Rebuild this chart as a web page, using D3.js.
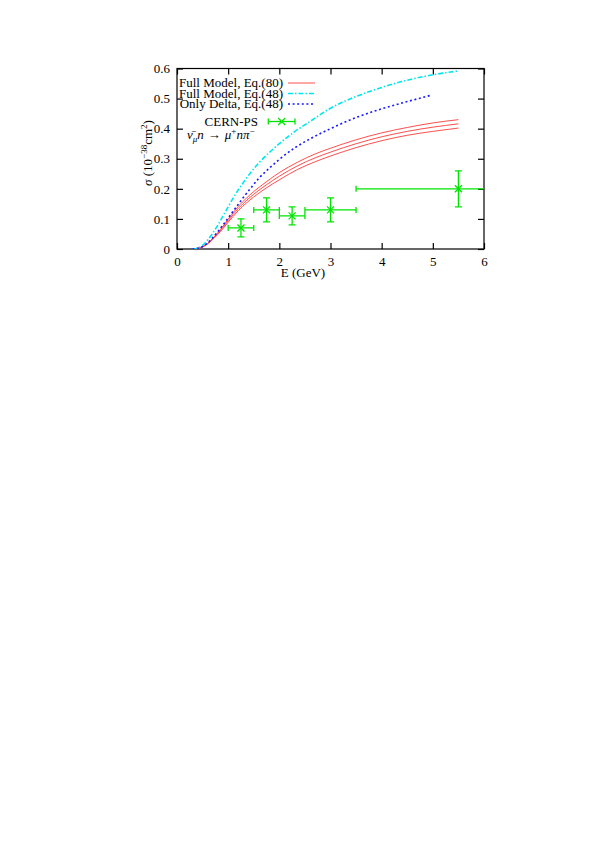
<!DOCTYPE html>
<html><head><meta charset="utf-8">
<script src="https://cdn.jsdelivr.net/npm/d3@7"></script>
<style>
body{margin:0;background:#fff;}
svg text{font-family:"Liberation Serif","Times New Roman",serif;fill:#000;}
</style></head>
<body><svg id="c" width="613" height="866"></svg>
<script>
// ---- data ----
const xTicks = [0,1,2,3,4,5,6];
const yTicks = [0,0.1,0.2,0.3,0.4,0.5,0.6];
const yTickLabels = ["0","0.1","0.2","0.3","0.4","0.5","0.6"];

const redE     = [0.3,0.4,0.5,0.6,0.7,0.8,0.9,1.0,1.1,1.2,1.35,1.5,1.72,2.0,2.35,2.7,3.0,3.5,4.0,4.5,5.0,5.5];
const redUpper = [0,0.002,0.007,0.019,0.036,0.055,0.076,0.099,0.121,0.142,0.168,0.191,0.220,0.254,0.288,0.316,0.335,0.363,0.386,0.404,0.419,0.430];
const redMid   = [0,0.002,0.007,0.018,0.034,0.052,0.072,0.094,0.115,0.135,0.160,0.182,0.210,0.242,0.276,0.303,0.322,0.350,0.373,0.391,0.405,0.416];
const redLower = [0,0.002,0.007,0.017,0.032,0.049,0.068,0.089,0.109,0.128,0.152,0.173,0.200,0.230,0.264,0.290,0.309,0.337,0.360,0.378,0.391,0.402];

const cyanE = [0.3,0.4,0.5,0.6,0.7,0.8,0.9,1.0,1.1,1.2,1.3,1.43,1.6,1.8,2.0,2.3,2.6,3.0,3.5,4.0,4.5,5.0,5.5];
const cyanS = [0,0.003,0.012,0.030,0.053,0.080,0.110,0.140,0.170,0.197,0.222,0.252,0.286,0.320,0.350,0.390,0.424,0.468,0.507,0.537,0.561,0.579,0.592];

const blueE = [0.3,0.4,0.5,0.6,0.7,0.8,0.9,1.0,1.1,1.2,1.3,1.43,1.6,1.8,2.0,2.3,2.6,3.0,3.5,4.0,4.5,4.94];
const blueS = [0,0.002,0.008,0.020,0.038,0.058,0.080,0.103,0.126,0.149,0.172,0.200,0.235,0.268,0.298,0.336,0.366,0.400,0.437,0.466,0.490,0.510];

const dataE   = [1.25,1.75,2.25,3.0,5.5];
const dataS   = [0.07,0.13,0.11,0.13,0.20];
const dataElo = [1.0,1.5,2.0,2.5,3.5];
const dataEhi = [1.5,2.0,2.5,3.5,7.5];
const dataSlo = [0.04,0.09,0.08,0.09,0.14];
const dataShi = [0.10,0.17,0.14,0.17,0.26];

const legendLabels = ["Full Model, Eq.(80)","Full Model, Eq.(48)","Only Delta, Eq.(48)"];
const dataLabel = "CERN-PS";

// ---- layout ----
const L=177,R=484,T=68.5,B=249;
const svg=d3.select("#c");
const x=d3.scaleLinear().domain([0,6]).range([L,R]);
const y=d3.scaleLinear().domain([0,0.6]).range([B,T]);

svg.append("defs").append("clipPath").attr("id","clip")
  .append("rect").attr("x",L).attr("y",T).attr("width",R-L).attr("height",B-T);

// axes
const fs=13;
const ax=[
  svg.append("g").attr("transform",`translate(0,${B})`).call(d3.axisBottom(x).tickValues(xTicks).tickSize(-6).tickPadding(8).tickFormat(d3.format("d"))),
  svg.append("g").attr("transform",`translate(0,${T})`).call(d3.axisTop(x).tickValues(xTicks).tickSize(-6).tickFormat("")),
  svg.append("g").attr("transform",`translate(${L},0)`).call(d3.axisLeft(y).tickValues(yTicks).tickSize(-6).tickPadding(7).tickFormat((d,i)=>yTickLabels[i])),
  svg.append("g").attr("transform",`translate(${R},0)`).call(d3.axisRight(y).tickValues(yTicks).tickSize(-6).tickFormat(""))
];
ax.forEach(g=>{
  g.select(".domain").remove();
  g.selectAll(".tick line").attr("stroke","#000").attr("stroke-width",1.2);
  g.selectAll("text").attr("font-family","Liberation Serif, serif").attr("font-size",fs).attr("fill","#000");
});
svg.append("rect").attr("x",L).attr("y",T).attr("width",R-L).attr("height",B-T)
  .attr("fill","none").attr("stroke","#000").attr("stroke-width",1.2);

// axis titles
svg.append("text").attr("x",303).attr("y",277).attr("text-anchor","middle")
  .attr("font-size",fs).text("E (GeV)");
const yl=svg.append("text").attr("transform",`translate(152,153) rotate(-90)`)
  .attr("text-anchor","middle").attr("font-size",fs);
yl.append("tspan").attr("font-style","italic").text("σ");
yl.append("tspan").text(" (10");
yl.append("tspan").attr("font-size",9).attr("dy",-5).text("−38");
yl.append("tspan").attr("dy",5).text("cm");
yl.append("tspan").attr("font-size",9).attr("dy",-5).text("2");
yl.append("tspan").attr("dy",5).text(")");

// curves
const plot=svg.append("g").attr("clip-path","url(#clip)");
const line=d3.line().x(d=>x(d[0])).y(d=>y(d[1])).curve(d3.curveMonotoneX);
const red="#ff3a3a", cyan="#00e5ee", blue="#1a1aff", green="#00e400";
[redUpper,redMid,redLower].forEach(s=>{
  plot.append("path").datum(redE.map((e,i)=>[e,s[i]])).attr("d",line)
    .attr("fill","none").attr("stroke",red).attr("stroke-width",0.9);
});
plot.append("path").datum(cyanE.map((e,i)=>[e,cyanS[i]])).attr("d",line)
  .attr("fill","none").attr("stroke",cyan).attr("stroke-width",1.6).attr("stroke-dasharray","5,2,1.5,2");
plot.append("path").datum(blueE.map((e,i)=>[e,blueS[i]])).attr("d",line)
  .attr("fill","none").attr("stroke",blue).attr("stroke-width",1.6).attr("stroke-dasharray","2,2.6");

// data points
function errPoint(g,cx,cy,xl,xh,yl_,yh,capX,capY){
  const st={stroke:green,"stroke-width":1.3,fill:"none"};
  const add=(x1,y1,x2,y2)=>{const l=g.append("line").attr("x1",x1).attr("y1",y1).attr("x2",x2).attr("y2",y2);
    Object.entries(st).forEach(([k,v])=>l.attr(k,v));};
  add(xl,cy,xh,cy); add(xl,cy-capX,xl,cy+capX); add(xh,cy-capX,xh,cy+capX);
  if(yl_!==null){add(cx,yl_,cx,yh); add(cx-capY,yl_,cx+capY,yl_); add(cx-capY,yh,cx+capY,yh);}
  const m=3.5; add(cx-m,cy-m,cx+m,cy+m); add(cx-m,cy+m,cx+m,cy-m);
}
dataE.forEach((e,i)=>{
  errPoint(plot,x(e),y(dataS[i]),x(dataElo[i]),x(dataEhi[i]),y(dataSlo[i]),y(dataShi[i]),3,3.5);
});

// legend
const lg=svg.append("g");
const rowY=[83,93.5,104];
const styles=[
  {c:red,w:0.9,d:null},
  {c:cyan,w:1.6,d:"5,2,1.5,2"},
  {c:blue,w:1.6,d:"2,2.6"}
];
legendLabels.forEach((t,i)=>{
  lg.append("text").attr("x",283).attr("y",rowY[i]+4).attr("text-anchor","end").attr("font-size",fs).text(t);
  const l=lg.append("line").attr("x1",288).attr("x2",315).attr("y1",rowY[i]).attr("y2",rowY[i])
    .attr("stroke",styles[i].c).attr("stroke-width",styles[i].w);
  if(styles[i].d) l.attr("stroke-dasharray",styles[i].d);
});
lg.append("text").attr("x",258).attr("y",125.5).attr("text-anchor","end").attr("font-size",fs).text(dataLabel);
errPoint(lg,281.7,121.5,268.3,295,null,null,3,3.5);

// reaction label
const rx=lg.append("text").attr("x",187).attr("y",139).attr("font-size",fs).attr("font-style","italic");
rx.append("tspan").text("ν\u0304");
rx.append("tspan").attr("font-size",9).attr("dy",3).text("μ");
rx.append("tspan").attr("dy",-3).text("n");
rx.append("tspan").attr("font-style","normal").attr("dx",4).text("→");
rx.append("tspan").attr("dx",4).text("μ");
rx.append("tspan").attr("font-size",9).attr("dy",-5).attr("font-style","normal").text("+");
rx.append("tspan").attr("dy",5).text("nπ");
rx.append("tspan").attr("font-size",9).attr("dy",-5).attr("font-style","normal").text("−");
</script></body></html>
